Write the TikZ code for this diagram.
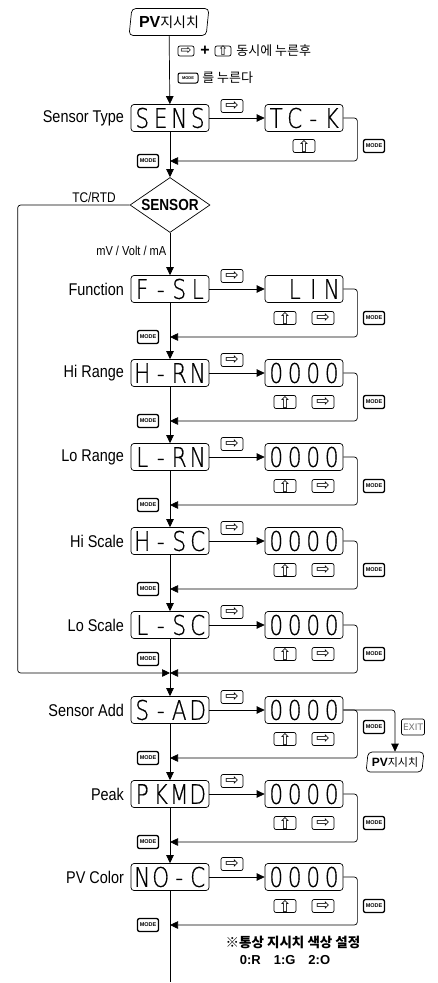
\documentclass[tikz,border=0pt]{standalone}
\usepackage{fontspec}
\setmainfont{Liberation Sans}
\newfontfamily\krfont{Noto Sans CJK KR}
\newfontfamily\symfont{DejaVu Sans}
\newfontfamily\lcdfont[FakeStretch=0.8, FakeBold=0.6]{DejaVu Sans ExtraLight}
\newfontfamily\labfont[FakeStretch=0.85]{Liberation Sans}
\usetikzlibrary{shapes.geometric, arrows.meta, positioning, calc}

% 4-digit display: each character sits in a cell of its own
\newcommand{\lcd}[1]{{\lcdfont\fontsize{27}{27}\selectfont\lcdcell#1\relax}}
\def\lcdcell#1{\ifx#1\relax\else\makebox[18.5pt]{#1}\expandafter\lcdcell\fi}

\begin{document}
\begin{tikzpicture}[x=1pt, y=-1pt, line width=0.7pt,
  disp/.style={rectangle, draw, rounded corners=3pt, minimum width=78pt,
               minimum height=27pt, inner sep=0pt},
  key/.style={rectangle, draw, rounded corners=2pt, minimum width=22pt,
              minimum height=13pt, inner sep=0pt, font=\symfont\fontsize{16}{16}\selectfont},
  modekey/.style={rectangle, draw, line width=1.3pt, rounded corners=2pt,
                  minimum width=21pt, minimum height=13pt, inner sep=0pt,
                  font=\bfseries\fontsize{5.5}{5.5}\selectfont},
  lab/.style={anchor=east, font=\labfont\fontsize{17}{17}\selectfont},
  pvbox/.style={trapezium, trapezium left angle=80, trapezium right angle=100,
                trapezium stretches=true, draw, rounded corners=4pt, inner sep=0pt},
  arr/.style={-{Triangle[length=8pt, width=7.5pt]}},
  note/.style={anchor=west, inner sep=0pt, font=\krfont\fontsize{13}{13}\selectfont},
]
  \useasboundingbox (0,0) rectangle (437,983);

  % start
  \node[pvbox, minimum width=80pt, minimum height=27pt] (pv) at (169,22)
    {{\bfseries\fontsize{16}{16}\selectfont PV}{\krfont\fontsize{14}{14}\selectfont 지시치}};
  \node[key, minimum width=16pt, minimum height=10pt, font=\symfont\fontsize{13}{13}\selectfont]
    (k1) at (186,51) {⇨};
  \node[font=\bfseries\fontsize{16}{16}\selectfont] (plus) at (205,51) {+};
  \node[key, minimum width=16pt, minimum height=10pt, font=\symfont\fontsize{13}{13}\selectfont]
    (k2) at (223,51) {⇧};
  \node[note] (n1) at (236,51) {동시에 누른후};
  \node[modekey, minimum width=20pt, minimum height=10pt, line width=1pt,
        font=\bfseries\fontsize{4}{4}\selectfont] (k3) at (188,78) {MODE};
  \node[note] (n2) at (202,78) {를 누른다};

  % Sensor Type
  \node[disp] (sens) at (170,118) {\lcd{SENS}};
  \node[lab, left=3pt of sens] (sens-l) {Sensor Type};
  \node[disp] (tck) at (304,118) {\lcd{TC-K}};
  \draw[arr] (pv) -- (sens);
  \draw[arr] (sens) -- (tck);
  \node[key] (sens-r) at (232,106) {⇨};
  \node[key] (sens-u) at (304,146) {⇧};
  \node[modekey] (sens-mr) at (374,146) {MODE};
  \coordinate (sens-m) at (170,161);
  \draw[arr, rounded corners=3pt] (tck.east) -- ++(14,0) |- (sens-m);
  \node[modekey] (sens-ml) at (148,161) {MODE};

  % decision
  \node[diamond, draw, aspect=1.45, minimum width=80pt, minimum height=55pt, inner sep=0pt,
        font=\labfont\bfseries\fontsize{16}{16}\selectfont] (sensor) at (170,205) {SENSOR};
  \draw[arr] (sens) -- (sensor);
  \node[font=\labfont\fontsize{14}{14}\selectfont] (tcrtd) at (94,197) {TC/RTD};

  % parameter rows
  \foreach \nm/\lb/\p/\v/\y/\mo/\ml in {fsl/Function/F-SL/~LIN/289/29/48,
      hrn/Hi Range/H-RN/0000/373/29/48, lrn/Lo Range/L-RN/0000/457/29/48,
      hsc/Hi Scale/H-SC/0000/541/29/48, lsc/Lo Scale/L-SC/0000/625/29/34,
      sad/Sensor Add/S-AD/0000/710/17/48, pkmd/Peak/PKMD/0000/794/29/48,
      noc/PV Color/NO-C/0000/877/29/48}{
    \node[disp] (\nm) at (170,\y) {\expandafter\lcd\expandafter{\p}};
    \node[lab, left=3pt of \nm] (\nm-l) {\lb};
    \node[disp] (\nm-v) at (304,\y) {\expandafter\lcd\expandafter{\v}};
    \draw[arr] (\nm) -- (\nm-v);
    \node[key] (\nm-r) at (232,\y-13) {⇨};
    \node[key] (\nm-u) at (285,\y+29) {⇧};
    \node[key] (\nm-d) at (323,\y+29) {⇨};
    \node[modekey] (\nm-mr) at (374,\y+\mo) {MODE};
    \coordinate (\nm-m) at (170,\y+48);
    \draw[arr, rounded corners=3pt] (\nm-v.east) -- ++(14,0) |- (\nm-m);
    \node[modekey] (\nm-ml) at (148,\y+\ml) {MODE};
  }

  % main line
  \draw[arr] (sensor) -- node[left, pos=0.42, font=\labfont\fontsize{13}{13}\selectfont] (mv)
    {mV / Volt / mA} (fsl);
  \foreach \a/\b in {fsl/hrn, hrn/lrn, lrn/hsc, hsc/lsc, lsc/sad, sad/pkmd, pkmd/noc}
    \draw[arr] (\a) -- (\b);
  \draw[arr, rounded corners=3pt] (sensor.west) -- ++(-112,0) |- (lsc-m);
  \coordinate (end) at (170,982);
  \draw (noc) -- (end);

  % exit from Sensor Add
  \node[pvbox, minimum width=58pt, minimum height=20pt] (pvx) at (395,762)
    {{\bfseries\fontsize{12}{12}\selectfont PV}{\krfont\fontsize{11}{11}\selectfont 지시치}};
  \node[key, minimum width=23pt, minimum height=16pt, text=black!55,
        font=\symfont\fontsize{9}{9}\selectfont] (exit) at (413,727) {EXIT};
  \draw[arr, rounded corners=3pt] (sad-v.east) -| (pvx.north);

  % colour note
  \node[font=\krfont\bfseries\fontsize{13.5}{13.5}\selectfont] (memo) at (293,942)
    {※통상 지시치 색상 설정};
  \node[font=\bfseries\fontsize{13}{13}\selectfont] (codes) at (285,960)
    {0:R\quad 1:G\quad 2:O};
\end{tikzpicture}
\end{document}
